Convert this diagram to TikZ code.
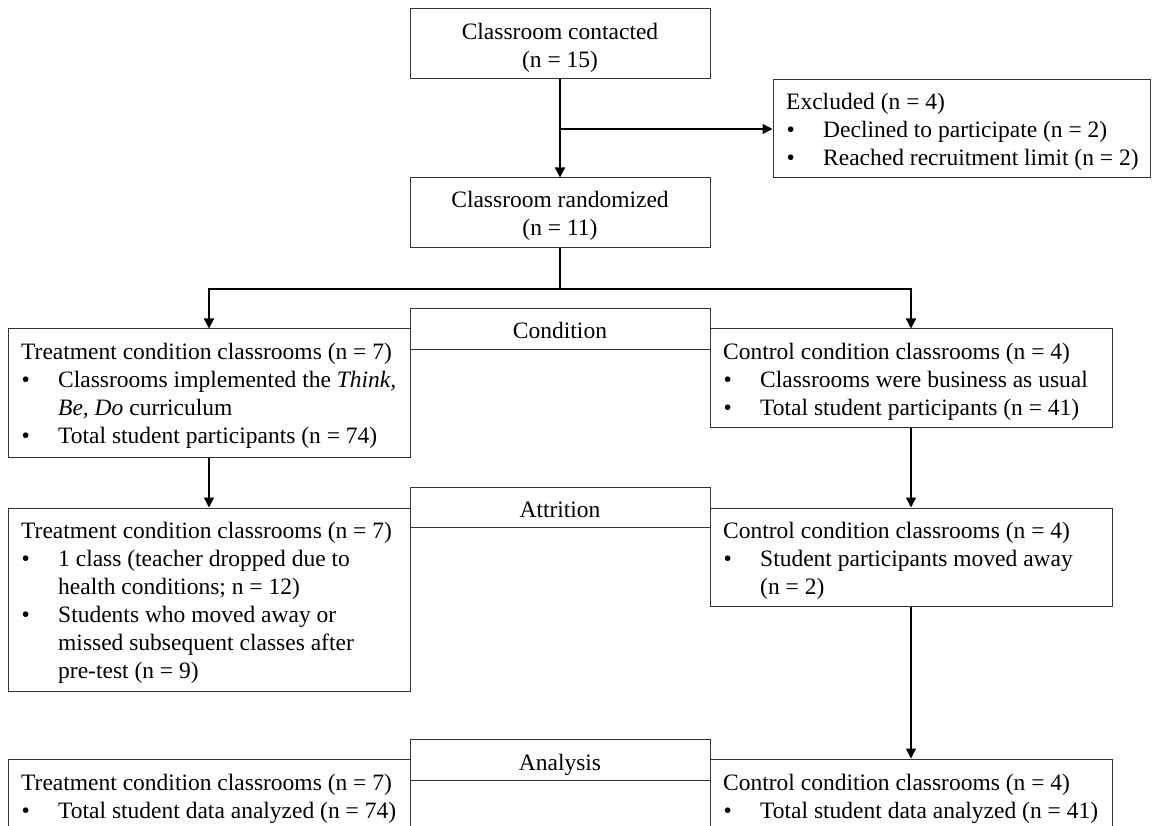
\documentclass[tikz,border=0pt]{standalone}
\usepackage{fontspec}
\setmainfont{Liberation Serif}
\usetikzlibrary{arrows.meta,fit}
\tikzset{
  box/.style={draw=black!80, line width=1pt, inner sep=0pt},
  flow/.style={line width=1.5pt, -{Triangle[length=10pt,width=10pt]}},
  plain/.style={line width=1.5pt},
  ctext/.style={anchor=base, inner sep=0pt, font=\fontsize{23.5}{28}\selectfont},
  ltext/.style={anchor=base west, inner sep=0pt, font=\fontsize{23.5}{28}\selectfont},
}
% text blocks: first baseline sits on the node's base
\newcommand{\lblock}[1]{\parbox[t]{520pt}{\raggedright #1}}
\newcommand{\cblock}[1]{\parbox[t]{300pt}{\centering #1}}
% bullet item with hanging indent
\newcommand{\bul}{\par\hangindent=37pt\hangafter=1\makebox[37pt][l]{\hspace{0.5pt}•}}
\begin{document}
\begin{tikzpicture}[x=1pt,y=-1pt]
\useasboundingbox (0,0) rectangle (1152,826);
\clip (0,0) rectangle (1152,826);

% boxes
\node[box, fit={(410,9) (710,79)}] (top) {};
\node[box, fit={(773,80) (1150,178)}] (excl) {};
\node[box, fit={(410,178) (710,248)}] (rand) {};
\node[box, fit={(8,329) (410,457)}] (tr1) {};
\node[box, fit={(410,309) (710,350)}] (cond) {};
\node[box, fit={(710,329) (1112,427)}] (co1) {};
\node[box, fit={(8,508) (410,691)}] (tr2) {};
\node[box, fit={(410,487) (710,527)}] (attr) {};
\node[box, fit={(710,508) (1112,606)}] (co2) {};
\node[box, fit={(8,759) (410,900)}] (tr3) {};
\node[box, fit={(410,739) (710,780)}] (anal) {};
\node[box, fit={(710,759) (1112,900)}] (co3) {};

% texts
\node[ctext] (top-t) at (560,39.5) {\cblock{Classroom contacted\\(n = 15)}};
\node[ltext] (excl-t) at (786,110) {\lblock{Excluded (n = 4)\bul Declined to participate (n = 2)\bul Reached recruitment limit (n = 2)}};
\node[ctext] (rand-t) at (560,208) {\cblock{Classroom randomized\\(n = 11)}};
\node[ctext] (cond-t) at (560,339) {\cblock{Condition}};
\node[ltext] (tr1-t) at (21,360) {\lblock{Treatment condition classrooms (n = 7)\bul Classrooms implemented the \textit{Think,}\newline\textit{Be, Do} curriculum\bul Total student participants (n = 74)}};
\node[ltext] (co1-t) at (723,360) {\lblock{Control condition classrooms (n = 4)\bul Classrooms were business as usual\bul Total student participants (n = 41)}};
\node[ctext] (attr-t) at (560,517) {\cblock{Attrition}};
\node[ltext] (tr2-t) at (21,538) {\lblock{Treatment condition classrooms (n = 7)\bul 1 class (teacher dropped due to\newline health conditions; n = 12)\bul Students who moved away or\newline missed subsequent classes after\newline pre-test (n = 9)}};
\node[ltext] (co2-t) at (723,538) {\lblock{Control condition classrooms (n = 4)\bul Student participants moved away\newline (n = 2)}};
\node[ctext] (anal-t) at (560,770) {\cblock{Analysis}};
\node[ltext] (tr3-t) at (21,790) {\lblock{Treatment condition classrooms (n = 7)\bul Total student data analyzed (n = 74)}};
\node[ltext] (co3-t) at (723,790) {\lblock{Control condition classrooms (n = 4)\bul Total student data analyzed (n = 41)}};

% connectors
\draw[flow] (top.south) -- (rand.north);
\draw[flow] (top.south |- excl.west) -- (excl.west);
\coordinate (split) at (560,289);
\draw[plain] (rand.south) -- (split);
\draw[flow] (split) -| (tr1.north);
\draw[flow] (split) -| (co1.north);
\draw[flow] (tr1.south) -- (tr2.north);
\draw[flow] (co1.south) -- (co2.north);
\draw[flow] (co2.south) -- (co3.north);
\end{tikzpicture}
\end{document}
